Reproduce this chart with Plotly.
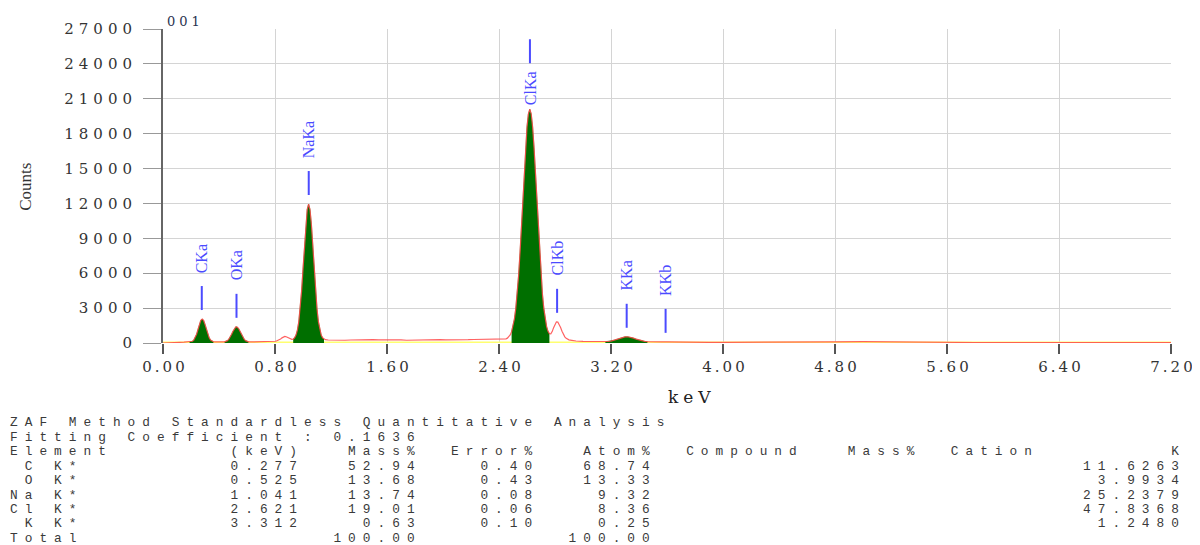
import numpy as np
import plotly.graph_objects as go

# ---------------- spectrum ----------------
energy_kev = [
    0.00, 0.05, 0.10, 0.12, 0.15, 0.17,
    0.18, 0.19, 0.20, 0.21, 0.22, 0.23, 0.24, 0.25, 0.26, 0.27, 0.28, 0.29, 0.30,
    0.31, 0.32, 0.33, 0.34, 0.35, 0.36, 0.37, 0.38,
    0.39, 0.40, 0.41, 0.42,
    0.43, 0.44, 0.45, 0.46, 0.47, 0.48, 0.49, 0.50, 0.51, 0.52, 0.53, 0.54, 0.55,
    0.56, 0.57, 0.58, 0.59, 0.60, 0.61, 0.62,
    0.64, 0.66, 0.68, 0.70, 0.72, 0.74, 0.76, 0.78,
    0.80, 0.81, 0.82, 0.83, 0.84, 0.85, 0.86, 0.87, 0.88, 0.89, 0.90, 0.91, 0.92,
    0.93, 0.94, 0.95, 0.96, 0.97, 0.98, 0.99, 1.00, 1.01, 1.02, 1.03, 1.04, 1.05,
    1.06, 1.07, 1.08, 1.09, 1.10, 1.11, 1.12, 1.13, 1.14, 1.15, 1.16,
    1.18, 1.22, 1.26, 1.30, 1.34, 1.38, 1.42, 1.46, 1.50, 1.54, 1.58, 1.62, 1.66,
    1.70, 1.74, 1.78, 1.82, 1.86, 1.90, 1.94, 1.98, 2.02, 2.06, 2.10, 2.14, 2.18,
    2.22, 2.26, 2.30, 2.34, 2.38, 2.42, 2.44,
    2.45, 2.46, 2.47, 2.48, 2.49, 2.50, 2.51, 2.52, 2.53, 2.54, 2.55, 2.56, 2.57,
    2.58, 2.59, 2.60, 2.61, 2.62, 2.63, 2.64, 2.65, 2.66, 2.67, 2.68, 2.69, 2.70,
    2.71, 2.72, 2.73, 2.74, 2.75, 2.76,
    2.77, 2.78, 2.79, 2.80, 2.81, 2.82, 2.83, 2.84, 2.85, 2.86, 2.87, 2.88, 2.89,
    2.90, 2.92, 2.95, 3.00, 3.05, 3.10, 3.14,
    3.16, 3.18, 3.20, 3.22, 3.24, 3.26, 3.28, 3.30, 3.32, 3.34, 3.36, 3.38, 3.40,
    3.42, 3.44, 3.46, 3.48,
    3.52, 3.56, 3.60, 3.65, 3.70, 3.75, 3.80, 3.90, 4.00, 4.20, 4.40, 4.60, 4.80,
    5.00, 5.20, 5.40, 5.60, 5.80, 6.00, 6.20, 6.40, 6.60, 6.80, 7.00, 7.20,
]
counts = [
    0, 0, 20, 60, 75, 80,
    80, 88, 105, 150, 250, 440, 745, 1160, 1600, 1950, 2060, 1940, 1600,
    1170, 750, 445, 255, 150, 105, 90, 82,
    82, 85, 84, 86,
    89, 104, 138, 205, 326, 509, 748, 1013, 1244, 1390, 1370, 1240, 1010,
    745, 505, 326, 205, 138, 104, 90,
    90, 95, 92, 100, 110, 115, 125, 140,
    150, 170, 210, 270, 350, 440, 520, 560, 540, 470, 390, 330, 310,
    334, 448, 678, 1109, 1830, 2940, 4460, 6340, 8350, 10190, 11480, 11950, 11480,
    10190, 8350, 6340, 4460, 2940, 1830, 1109, 678, 448, 334, 290,
    260, 240, 255, 235, 260, 280, 310, 320, 295, 270, 280, 255, 245,
    265, 235, 250, 265, 275, 255, 280, 290, 270, 260, 285, 300, 285,
    300, 315, 305, 320, 330, 335, 345,
    361, 418, 520, 692, 973, 1410, 2062, 2980, 4220, 5800, 7730, 9940, 12310,
    14680, 16840, 18580, 19700, 20100, 19700, 18580, 16840, 14680, 12310, 9940, 7730, 5800,
    4220, 2980, 2062, 1410, 1000, 800,
    780, 980, 1320, 1640, 1820, 1800, 1620, 1330, 1020, 740, 530, 400, 320,
    270, 230, 170, 140, 130, 120, 110,
    110, 130, 165, 230, 310, 400, 480, 530, 535, 490, 420, 330, 250,
    185, 140, 115, 100,
    95, 100, 90, 95, 85, 90, 70, 60, 55, 50, 45, 50, 90,
    120, 90, 110, 80, 40, 40, 35, 35, 30, 30, 30, 30,
]

# peak regions filled in green (keV)
roi_start_kev = [0.19, 0.44, 0.93, 2.49, 3.16]
roi_end_kev = [0.36, 0.61, 1.15, 2.76, 3.46]

# identified lines
line_names = ["CKa", "OKa", "NaKa", "ClKa", "ClKb", "KKa", "KKb"]
line_kev = [0.277, 0.525, 1.041, 2.621, 2.815, 3.312, 3.590]

# axes ticks
x_tick_vals = [0.0, 0.8, 1.6, 2.4, 3.2, 4.0, 4.8, 5.6, 6.4, 7.2]
x_tick_text = ["0.00", "0.80", "1.60", "2.40", "3.20", "4.00", "4.80", "5.60", "6.40", "7.20"]
y_tick_vals = [0, 3000, 6000, 9000, 12000, 15000, 18000, 21000, 24000, 27000]
y_tick_text = ["0", "3000", "6000", "9000", "12000", "15000", "18000", "21000", "24000", "27000"]

# quantitative analysis table
table_title = "ZAF Method Standardless Quantitative Analysis"
fitting_coefficient = "0.1636"
elements = [" C K*", " O K*", "Na K*", "Cl K*", " K K*"]
elem_kev = ["0.277", "0.525", "1.041", "2.621", "3.312"]
mass_pct = ["52.94", "13.68", "13.74", "19.01", "0.63"]
error_pct = ["0.40", "0.43", "0.08", "0.06", "0.10"]
atom_pct = ["68.74", "13.33", "9.32", "8.36", "0.25"]
k_value = ["11.6263", "3.9934", "25.2379", "47.8368", "1.2480"]
mass_total = "100.00"
atom_total = "100.00"

# ---------------- figure geometry (screen pixels) ----------------
W, H = 1200, 545
PAGE_OFF = 8                      # default page margin around the plot div
X0, X1, Y0, Y1 = 163, 1173, 28, 343   # plot area on screen
ML, MR = X0 - PAGE_OFF, W + PAGE_OFF - X1
MT, MB = Y0 - PAGE_OFF, H + PAGE_OFF - Y1
PW, PH = X1 - X0, Y1 - Y0


def px_x(px):
    return (px - X0) / PW


def px_y(py):
    return (Y1 - py) / PH


def spaced(s, ls):
    return '<span style="letter-spacing:%spx">%s</span>' % (ls, s.replace(" ", "\u00a0"))


e = np.array(energy_kev)
c = np.array(counts)

fig = go.Figure()

# yellow baseline under the spectrum
fig.add_trace(go.Scatter(x=[e[0], e[-1]], y=[0, 0], mode="lines",
                         line=dict(color="#ffff70", width=3), hoverinfo="skip"))

GREEN = "#006f00"
for a, b in zip(roi_start_kev, roi_end_kev):
    m = (e >= a - 1e-9) & (e <= b + 1e-9)
    fig.add_trace(go.Scatter(x=e[m], y=c[m], mode="lines", fill="tozeroy",
                             fillcolor=GREEN, line=dict(color=GREEN, width=0.5),
                             hoverinfo="skip"))

fig.add_trace(go.Scatter(x=e, y=c, mode="lines",
                         line=dict(color="rgba(255,70,70,0.85)", width=1.2),
                         hoverinfo="skip"))

BLUE = "#4b4bff"
for name, kv in zip(line_names, line_kev):
    m = np.abs(e - kv) <= 0.03
    peak = float(c[m].max())
    if name == "ClKa":
        txt_shift, l0, l1 = 2, 46, 70
    else:
        txt_shift, l0, l1 = 44, 9, 33
    fig.add_shape(type="line", xref="x", yref="y", x0=kv, x1=kv,
                  ysizemode="pixel", yanchor=peak, y0=l0, y1=l1,
                  line=dict(color=BLUE, width=2))
    fig.add_annotation(x=kv, y=peak, xref="x", yref="y", text=name, textangle=-90,
                       showarrow=False, yanchor="bottom", xanchor="center",
                       yshift=txt_shift,
                       font=dict(family="Liberation Serif", size=16, color=BLUE))

TICKFONT = dict(family="DejaVu Serif", size=15, color="#333333")
fig.update_xaxes(range=[0, 7.2], tickmode="array", tickvals=x_tick_vals,
                 ticktext=[spaced(t, 3) for t in x_tick_text], ticklabelshift=2,
                 ticks="outside", ticklen=10, tickwidth=2, tickcolor="#555555",
                 showgrid=True, gridcolor="#d4d4d4", gridwidth=1, zeroline=False,
                 showline=False, tickfont=TICKFONT)
fig.update_yaxes(range=[0, 27000], tickmode="array", tickvals=y_tick_vals,
                 ticktext=[spaced(t, 5) for t in y_tick_text],
                 ticks="outside", ticklen=18, tickwidth=1, tickcolor="#999999",
                 showgrid=True, gridcolor="#d4d4d4", gridwidth=1, zeroline=False,
                 showline=True, linecolor="#666666", linewidth=2,
                 ticklabelstandoff=3, tickfont=TICKFONT)

# axis titles and sample id
fig.add_annotation(x=px_x(693), y=px_y(397), xref="paper", yref="paper",
                   text=spaced("keV", 5), showarrow=False, xanchor="center", yanchor="middle",
                   font=dict(family="DejaVu Serif", size=17, color="#222222"))
fig.add_annotation(x=px_x(25), y=px_y(186), xref="paper", yref="paper",
                   text="Counts", textangle=-90, showarrow=False,
                   xanchor="center", yanchor="middle",
                   font=dict(family="Liberation Serif", size=17, color="#333333"))
fig.add_annotation(x=px_x(165), y=px_y(20), xref="paper", yref="paper",
                   text=spaced("001", 4), showarrow=False, xanchor="left", yanchor="middle",
                   font=dict(family="DejaVu Serif", size=13, color="#2a3350"))

# table text (fixed-width 80-column layout), one annotation per row
rows = [table_title, "Fitting Coefficient : " + fitting_coefficient,
        "Element" + "(keV)".rjust(13) + "Mass%".rjust(8) + "Error%".rjust(8)
        + "Atom%".rjust(8) + "  Compound" + "   Mass%" + "  Cation" + "K".rjust(10)]
for i in range(len(elements)):
    rows.append(elements[i] + elem_kev[i].rjust(15) + mass_pct[i].rjust(8)
                + error_pct[i].rjust(8) + atom_pct[i].rjust(8) + k_value[i].rjust(36))
rows.append("Total" + " " * 15 + mass_total.rjust(8) + " " * 8 + atom_total.rjust(8))

CHAR_W = 14.7
ROW_PITCH = 14.5
TFS = 12.8
for i, r in enumerate(rows):
    fig.add_annotation(x=px_x(PAGE_OFF + 1), y=px_y(423 + ROW_PITCH * i),
                       xref="paper", yref="paper",
                       text=spaced(r, round(CHAR_W - 0.6 * TFS, 2)), showarrow=False,
                       xanchor="left", yanchor="middle", borderpad=0,
                       font=dict(family="Liberation Mono", size=TFS, color="#3a3a3a"))

fig.update_layout(width=W, height=H, autosize=False,
                  margin=dict(l=ML, r=MR, t=MT, b=MB),
                  plot_bgcolor="white", paper_bgcolor="white", showlegend=False)

fig.write_html("out.html")
